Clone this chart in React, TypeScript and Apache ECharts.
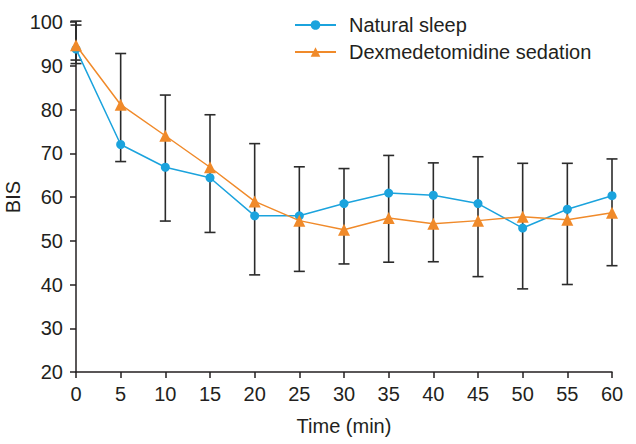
import React, { useEffect, useRef } from "react";
import * as echarts from "echarts";

const times = [0, 5, 10, 15, 20, 25, 30, 35, 40, 45, 50, 55, 60];
const naturalSleep = [93.8, 72.0, 66.8, 64.4, 55.7, 55.7, 58.5, 60.9, 60.4, 58.5, 52.9, 57.2, 60.3];
const dexSedation = [94.7, 81.1, 74.0, 66.8, 59.0, 54.6, 52.5, 55.2, 53.9, 54.6, 55.5, 54.8, 56.4];
const errHigh = [100.2, 92.8, 83.3, 78.8, 72.2, 66.9, 66.5, 69.5, 67.8, 69.2, 67.7, 67.7, 68.7];
const errLow = [90.5, 68.1, 54.5, 51.9, 42.2, 43.0, 44.7, 45.1, 45.2, 41.8, 39.0, 40.0, 44.3];
// second pair of caps at time 0
const extraTimes = [0];
const extraHigh = [99.3];
const extraLow = [91.3];

const FONT = "Liberation Sans, Arial, Helvetica, sans-serif";
const BLUE = "#1ba3dd";
const ORANGE = "#f08a2a";
const AXIS = "#231f20";

export default function App() {
  const ref = useRef<HTMLDivElement>(null);
  useEffect(() => {
    if (!ref.current) return;
    const chart = echarts.init(ref.current, undefined, { renderer: "svg" });
    const errData = times
      .map((t, i) => [t, errLow[i], errHigh[i]])
      .concat(extraTimes.map((t, i) => [t, extraLow[i], extraHigh[i]]));
    chart.setOption({
      animation: false,
      backgroundColor: "#ffffff",
      textStyle: { fontFamily: FONT },
      grid: { left: 76, right: 24, top: 22, bottom: 72, containLabel: false, outerBoundsMode: "none" },
      legend: {
        orient: "vertical",
        left: 289,
        top: 10,
        itemWidth: 41,
        itemHeight: 12,
        itemGap: 7,
        textStyle: { fontSize: 20, color: AXIS, fontFamily: FONT, lineHeight: 20, padding: [0, 0, 0, 8] },
        data: ["Natural sleep", "Dexmedetomidine sedation"],
      },
      xAxis: {
        type: "value",
        min: 0,
        max: 60,
        interval: 5,
        name: "Time (min)",
        nameLocation: "middle",
        nameGap: 44,
        nameTextStyle: { fontSize: 20, color: AXIS, fontFamily: FONT },
        axisLine: { show: true, onZero: false, lineStyle: { color: AXIS, width: 1.5 } },
        axisTick: { show: true, length: 6, lineStyle: { color: AXIS, width: 1.5 } },
        axisLabel: { fontSize: 20, color: AXIS, margin: 12, fontFamily: FONT },
        splitLine: { show: false },
      },
      yAxis: {
        type: "value",
        min: 20,
        max: 100,
        interval: 10,
        name: "BIS",
        nameLocation: "middle",
        nameGap: 53,
        nameMoveOverlap: false,
        nameRotate: 90,
        nameTextStyle: { fontSize: 20, color: AXIS, fontFamily: FONT },
        axisLine: { show: true, onZero: false, lineStyle: { color: AXIS, width: 1.5 } },
        axisTick: { show: true, length: 6, lineStyle: { color: AXIS, width: 1.5 } },
        axisLabel: { fontSize: 20, color: AXIS, margin: 13, fontFamily: FONT },
        splitLine: { show: false },
      },
      series: [
        {
          type: "custom",
          name: "err",
          z: 1,
          data: errData,
          encode: { x: 0, y: [1, 2] },
          renderItem: (params: any, api: any) => {
            const x = api.value(0);
            const lo = api.value(1);
            const hi = api.value(2);
            const pHi = api.coord([x, hi]);
            const pLo = api.coord([x, lo]);
            const w = 5.5;
            const style = { stroke: "#2b2b2b", lineWidth: 1.6 };
            return {
              type: "group",
              children: [
                { type: "line", shape: { x1: pHi[0], y1: pHi[1], x2: pLo[0], y2: pLo[1] }, style },
                { type: "line", shape: { x1: pHi[0] - w, y1: pHi[1], x2: pHi[0] + w, y2: pHi[1] }, style },
                { type: "line", shape: { x1: pLo[0] - w, y1: pLo[1], x2: pLo[0] + w, y2: pLo[1] }, style },
              ],
            };
          },
        },
        {
          type: "line",
          name: "Natural sleep",
          z: 3,
          data: times.map((t, i) => [t, naturalSleep[i]]),
          symbol: "circle",
          symbolSize: 9,
          itemStyle: { color: BLUE },
          lineStyle: { color: BLUE, width: 1.5 },
        },
        {
          type: "line",
          name: "Dexmedetomidine sedation",
          z: 4,
          data: times.map((t, i) => [t, dexSedation[i]]),
          symbol: "triangle",
          symbolSize: 12,
          itemStyle: { color: ORANGE },
          lineStyle: { color: ORANGE, width: 1.5 },
        },
      ],
    });
    return () => chart.dispose();
  }, []);
  return <div ref={ref} style={{ position: "fixed", left: 0, top: 0, width: 636, height: 444 }} />;
}
